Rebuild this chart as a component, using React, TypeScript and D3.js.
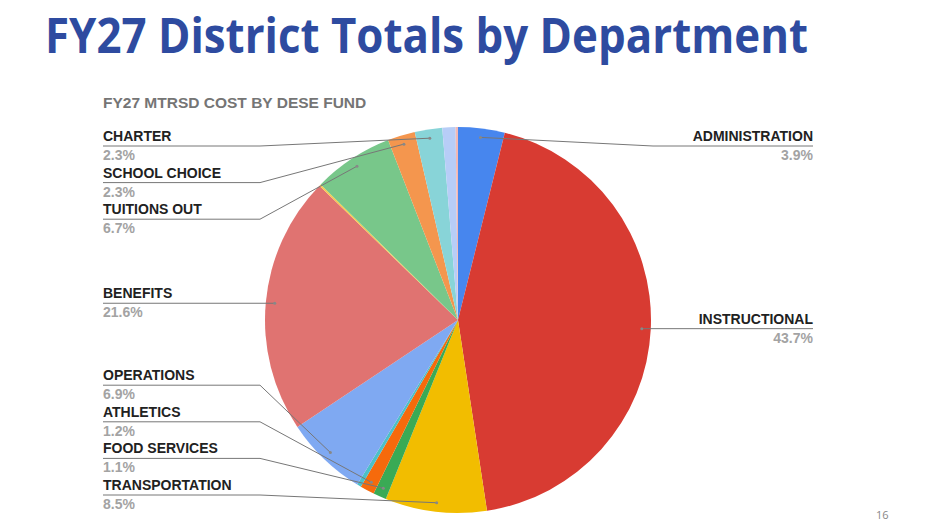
import React from "react";
import * as d3 from "d3";

const categories = [
  "ADMINISTRATION", "INSTRUCTIONAL", "TRANSPORTATION", "FOOD SERVICES", "ATHLETICS",
  "OTHER 1", "OPERATIONS", "BENEFITS", "OTHER 2", "TUITIONS OUT",
  "SCHOOL CHOICE", "CHARTER", "OTHER 3", "OTHER 4",
];
const shares = [3.9, 43.7, 8.5, 1.1, 1.2, 0.35, 6.9, 21.6, 0.15, 6.7, 2.3, 2.3, 1.1, 0.2];
const labeled = [true, true, true, true, true, false, true, true, false, true, true, true, false, false];
const colors = [
  "#4786EE", "#D83B32", "#F2BD00", "#3AAA55", "#F66A0C", "#4CC0C8",
  "#7FA9F2", "#E07371", "#F7CB4D", "#78C78A", "#F4964E", "#88D4D8", "#B7CDF7", "#F2B8B4",
];
const pageTitle = "FY27 District Totals by Department";
const chartTitle = "FY27 MTRSD COST BY DESE FUND";
const pageNumber = "16";

const W = 934, H = 532;
const cx = 458, cy = 320, R = 193;
const anchorR = 184;
const labelTop = 141, labelBottom = 490, gap = 36.6;

export default function App() {
  const data = categories.map((c, i) => ({ name: c, value: shares[i], color: colors[i], show: labeled[i] }));
  const pie = d3.pie<any>().sort(null).value((d: any) => d.value).startAngle(0).endAngle(2 * Math.PI);
  const arcs = pie(data);
  const arcGen = d3.arc<any>().innerRadius(0).outerRadius(R);

  const items = arcs
    .filter((a) => a.data.show)
    .map((a) => {
      const mid = (a.startAngle + a.endAngle) / 2;
      const ax = cx + anchorR * Math.sin(mid);
      const ay = cy - anchorR * Math.cos(mid);
      return { a, mid, ax, ay, side: Math.sin(mid) >= 0 ? "right" : "left", y: ay - 5 };
    });

  const layout = (side: string) => {
    const list = items.filter((d) => d.side === side).sort((p, q) => p.ay - q.ay);
    list.forEach((d) => (d.y = Math.max(labelTop, Math.min(labelBottom, d.y))));
    for (let i = 1; i < list.length; i++) list[i].y = Math.max(list[i].y, list[i - 1].y + gap);
    for (let i = list.length - 1; i >= 0; i--) {
      const lim = i === list.length - 1 ? labelBottom : list[i + 1].y - gap;
      list[i].y = Math.min(list[i].y, lim);
    }
    return list;
  };
  const left = layout("left");
  const right = layout("right");

  const leftX = 103, leftEnd = 260, rightX = 813, rightEnd = 653;

  return (
    <svg width={W} height={H} style={{ position: "absolute", left: 0, top: 0, background: "#fff" }}>
      <rect x={0} y={0} width={W} height={H} fill="#fff" />
      <text x={45} y={53} fill="#2E4BA0" fontFamily="'Open Sans', sans-serif" fontWeight={700} fontSize={48}
        textLength={763} lengthAdjust="spacingAndGlyphs">{pageTitle}</text>
      <text x={103} y={107.5} fill="#757575" fontFamily="'Liberation Sans', Arial, sans-serif" fontWeight={700} fontSize={15.5}>{chartTitle}</text>
      <g>
        {arcs.map((a, i) => (
          <path key={i} d={arcGen(a) as string} transform={`translate(${cx},${cy})`} fill={a.data.color} />
        ))}
      </g>
      {left.map((d, i) => {
        const ly = d.y + 5;
        return (
          <g key={"l" + i} fontFamily="'Liberation Sans', Arial, sans-serif" fontSize={14}>
            <polyline points={`${leftX},${ly} ${leftEnd},${ly} ${d.ax},${d.ay}`} fill="none" stroke="#777" strokeWidth={1} />
            <circle cx={d.ax} cy={d.ay} r={1.5} fill="#888" />
            <text x={leftX} y={d.y} fill="#212121" fontWeight={700}>{d.a.data.name}</text>
            <text x={leftX} y={d.y + 19} fill="#a3a3a3" fontWeight={700}>{d.a.data.value.toFixed(1) + "%"}</text>
          </g>
        );
      })}
      {right.map((d, i) => {
        const ly = d.y + 5;
        const ex = Math.max(rightEnd, d.ax);
        return (
          <g key={"r" + i} fontFamily="'Liberation Sans', Arial, sans-serif" fontSize={14}>
            <polyline points={`${rightX},${ly} ${ex},${ly} ${d.ax},${d.ay}`} fill="none" stroke="#777" strokeWidth={1} />
            <circle cx={d.ax} cy={d.ay} r={1.5} fill="#888" />
            <text x={rightX} y={d.y} textAnchor="end" fill="#212121" fontWeight={700}>{d.a.data.name}</text>
            <text x={rightX} y={d.y + 19} textAnchor="end" fill="#a3a3a3" fontWeight={700}>{d.a.data.value.toFixed(1) + "%"}</text>
          </g>
        );
      })}
      <text x={876} y={519} fill="#888" fontFamily="'Open Sans', sans-serif" fontSize={11}>{pageNumber}</text>
    </svg>
  );
}
